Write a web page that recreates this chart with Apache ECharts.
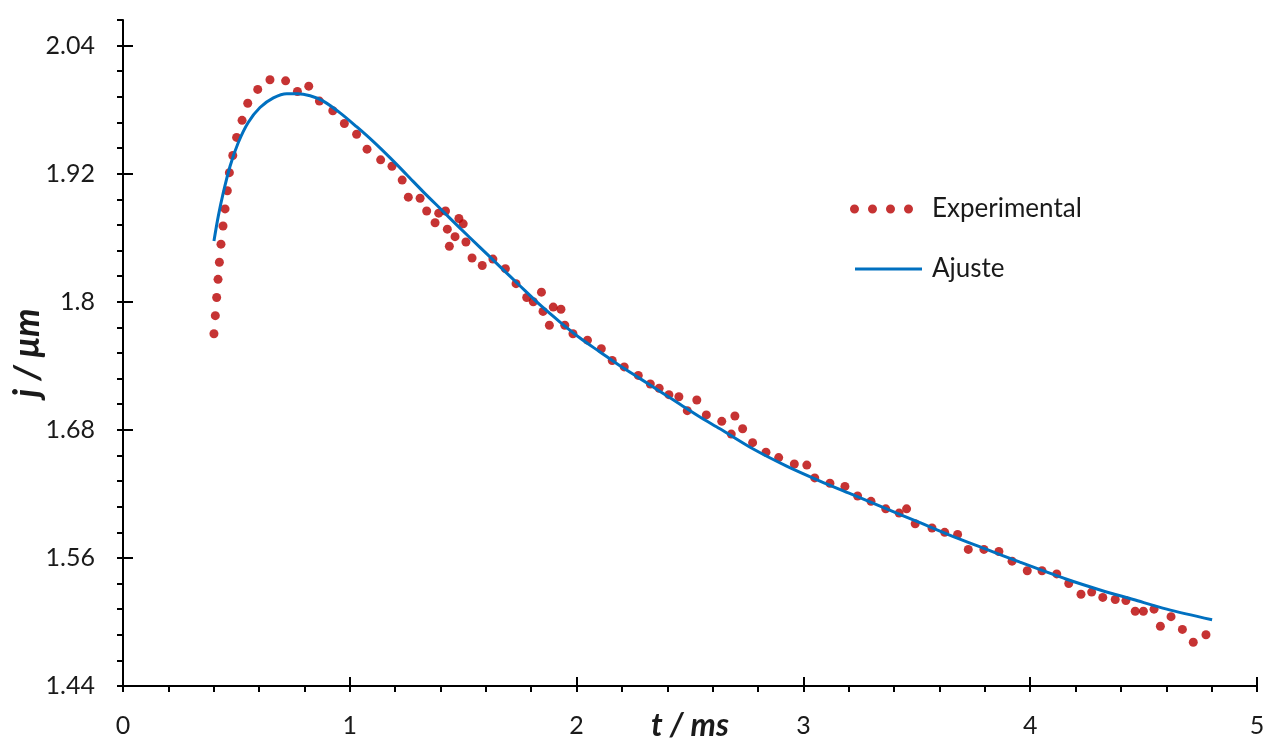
<!DOCTYPE html>
<html>
<head>
<meta charset="utf-8">
<script src="https://cdn.jsdelivr.net/npm/echarts@6/dist/echarts.min.js"></script>
<style>
html,body{margin:0;padding:0;background:#fff;}
#chart{width:1278px;height:742px;}
</style>
</head>
<body>
<div id="chart"></div>
<script>
// Experimental points (t in ms, j in µm)
const expT = [0.401,0.407,0.413,0.419,0.425,0.432,0.441,0.450,0.460,0.469,0.484,0.501,0.525,0.550,0.594,0.648,0.717,0.769,0.819,0.866,0.925,0.976,1.030,1.076,1.136,1.186,1.231,1.258,1.310,1.339,1.376,1.392,1.422,1.481,1.500,1.430,1.464,1.439,1.512,1.539,1.584,1.631,1.686,1.733,1.780,1.809,1.845,1.852,1.897,1.931,1.880,1.948,1.984,2.048,2.109,2.157,2.210,2.272,2.325,2.364,2.407,2.451,2.488,2.530,2.572,2.640,2.698,2.682,2.732,2.776,2.835,2.891,2.960,3.015,3.050,3.117,3.183,3.239,3.298,3.363,3.422,3.455,3.493,3.567,3.623,3.680,3.727,3.796,3.862,3.920,3.987,4.052,4.117,4.170,4.224,4.271,4.320,4.375,4.422,4.463,4.499,4.546,4.574,4.621,4.671,4.719,4.775];
const expJ = [1.770,1.787,1.804,1.821,1.837,1.854,1.871,1.887,1.904,1.921,1.937,1.954,1.970,1.986,1.999,2.008,2.007,1.997,2.002,1.988,1.979,1.967,1.957,1.943,1.933,1.927,1.914,1.898,1.897,1.885,1.874,1.883,1.885,1.878,1.873,1.868,1.861,1.852,1.856,1.841,1.834,1.840,1.831,1.817,1.804,1.800,1.809,1.791,1.795,1.793,1.778,1.778,1.770,1.764,1.756,1.745,1.739,1.731,1.723,1.719,1.713,1.711,1.698,1.708,1.694,1.688,1.693,1.676,1.681,1.668,1.659,1.654,1.648,1.647,1.635,1.630,1.627,1.618,1.613,1.606,1.602,1.606,1.592,1.588,1.584,1.582,1.568,1.568,1.566,1.557,1.548,1.548,1.545,1.536,1.526,1.528,1.523,1.521,1.520,1.510,1.510,1.512,1.496,1.505,1.493,1.481,1.488];

// Fitted curve (Ajuste)
const fitT = [0.401,0.420,0.442,0.472,0.508,0.552,0.604,0.663,0.722,0.769,0.825,0.883,0.957,1.030,1.104,1.177,1.251,1.324,1.405,1.486,1.574,1.662,1.750,1.839,1.927,2.015,2.103,2.191,2.280,2.368,2.456,2.544,2.632,2.779,2.926,3.073,3.220,3.367,3.514,3.661,3.808,3.955,4.161,4.308,4.455,4.602,4.802];
const fitJ = [1.857,1.880,1.902,1.927,1.949,1.968,1.982,1.991,1.995,1.995,1.993,1.988,1.977,1.964,1.950,1.935,1.919,1.903,1.886,1.869,1.851,1.833,1.815,1.797,1.781,1.766,1.753,1.740,1.728,1.716,1.704,1.692,1.681,1.662,1.646,1.632,1.619,1.606,1.593,1.580,1.568,1.556,1.540,1.530,1.521,1.512,1.502];

// Axis ticks
const xMajorTicks = [0,1,2,3,4,5];
const xTickLabels = ['0','1','2','3','4','5'];
const yMajorTicks = [1.44,1.56,1.68,1.8,1.92,2.04];
const yTickLabels = ['1.44','1.56','1.68','1.8','1.92','2.04'];

const seriesNames = ['Experimental','Ajuste'];
const xTitle = 't / ms';
const yTitle = 'j / μm';

const FONT = 'Lato';
const INK = '#1a1a1a';

function lookup(vals, labels, v) {
  for (let i = 0; i < vals.length; i++) {
    if (Math.abs(vals[i] - v) < 1e-6) return labels[i];
  }
  return '';
}

const expData = expT.map((t, i) => [t, expJ[i]]);
const fitData = fitT.map((t, i) => [t, fitJ[i]]);

const chart = echarts.init(document.getElementById('chart'), null, {renderer: 'canvas'});

const dotsIcon = 'path://M0,4.5A4.5,4.5 0 1 0 9,4.5A4.5,4.5 0 1 0 0,4.5ZM18,4.5A4.5,4.5 0 1 0 27,4.5A4.5,4.5 0 1 0 18,4.5ZM36,4.5A4.5,4.5 0 1 0 45,4.5A4.5,4.5 0 1 0 36,4.5ZM54,4.5A4.5,4.5 0 1 0 63,4.5A4.5,4.5 0 1 0 54,4.5Z';

chart.setOption({
  animation: false,
  backgroundColor: '#ffffff',
  grid: {left: 123, right: 21, top: 20, bottom: 56, containLabel: false, outerBoundsMode: 'none'},
  legend: [
    {
      data: [seriesNames[0]],
      left: 850, top: 196, padding: 0,
      icon: dotsIcon, itemWidth: 63, itemHeight: 9,
      textStyle: {fontFamily: FONT, fontSize: 26, color: INK, padding: [0,0,0,14]}
    },
    {
      data: [seriesNames[1]],
      left: 855, top: 256, padding: 0,
      icon: 'path://M0,0H67V3H0Z', itemWidth: 67, itemHeight: 3,
      textStyle: {fontFamily: FONT, fontSize: 26, color: INK, padding: [0,0,0,5]}
    }
  ],
  xAxis: [
    {
      type: 'value', min: 0, max: 5, interval: 0.2,
      name: xTitle, nameLocation: 'middle', nameGap: 24, nameMoveOverlap: false,
      nameTextStyle: {fontFamily: FONT, fontSize: 32, fontWeight: 'bold', fontStyle: 'italic', color: INK, verticalAlign: 'top'},
      axisLine: {show: true, onZero: false, lineStyle: {color: '#000', width: 2}},
      axisTick: {show: true, inside: false, length: 6, lineStyle: {color: '#000', width: 2}},
      axisLabel: {margin: 27, fontFamily: FONT, fontSize: 25, color: INK,
        formatter: v => lookup(xMajorTicks, xTickLabels, v)},
      splitLine: {show: false}
    },
    {
      type: 'value', min: 0, max: 5, interval: 1, position: 'bottom', offset: 0,
      axisLine: {show: false},
      axisTick: {show: true, inside: true, length: 9, lineStyle: {color: '#000', width: 2}},
      axisLabel: {show: false},
      splitLine: {show: false}
    }
  ],
  yAxis: [
    {
      type: 'value', min: 1.44, max: 2.064, interval: 0.024,
      name: yTitle, nameLocation: 'middle', nameGap: 78, nameMoveOverlap: false,
      nameTextStyle: {fontFamily: FONT, fontSize: 36, fontWeight: 'bold', fontStyle: 'italic', color: INK},
      axisLine: {show: true, onZero: false, lineStyle: {color: '#000', width: 2}},
      axisTick: {show: true, inside: false, length: 6, lineStyle: {color: '#000', width: 2}},
      axisLabel: {margin: 28, fontFamily: FONT, fontSize: 25, color: INK,
        formatter: v => lookup(yMajorTicks, yTickLabels, v)},
      splitLine: {show: false}
    },
    {
      type: 'value', min: 1.44, max: 2.064, interval: 0.12, position: 'left', offset: 0,
      axisLine: {show: false},
      axisTick: {show: true, inside: true, length: 10, customValues: yMajorTicks, lineStyle: {color: '#000', width: 2}},
      axisLabel: {show: false},
      splitLine: {show: false}
    }
  ],
  series: [
    {
      name: seriesNames[0], type: 'scatter', xAxisIndex: 0, yAxisIndex: 0,
      symbol: 'circle', symbolSize: 9,
      itemStyle: {color: '#B80000'},
      data: expData, z: 3
    },
    {
      name: seriesNames[1], type: 'line', xAxisIndex: 0, yAxisIndex: 0,
      smooth: 0.3, showSymbol: false, symbol: 'none',
      lineStyle: {color: '#0070C0', width: 3},
      itemStyle: {color: '#0070C0'},
      data: fitData, z: 4
    }
  ]
});
</script>
</body>
</html>
